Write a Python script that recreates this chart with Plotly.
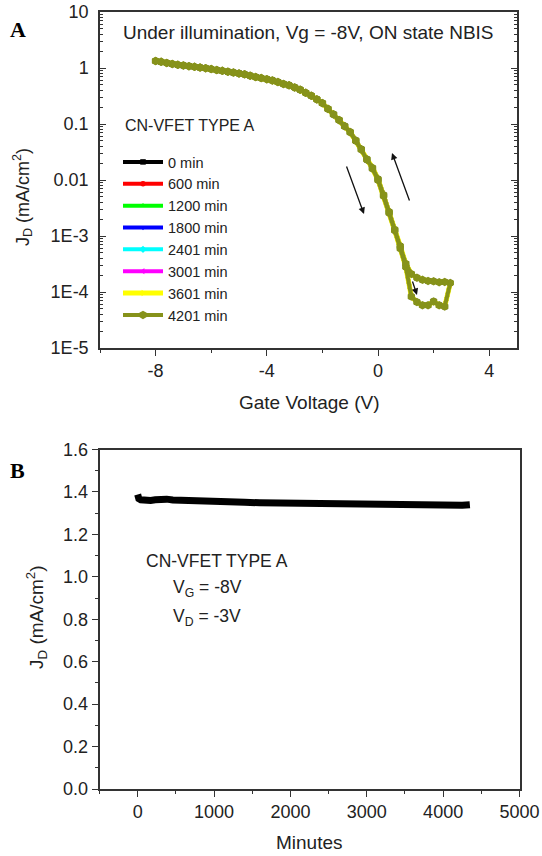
import plotly.graph_objects as go

# ---------------- DATA ----------------
# Panel A: gate sweep (forward -8 -> 2.6 V, then reverse back to -8 V)
vg_forward = [-8.0, -7.8, -7.6, -7.4, -7.2, -7.0, -6.8, -6.6, -6.4, -6.2,
              -6.0, -5.8, -5.6, -5.4, -5.2, -5.0, -4.8, -4.6, -4.4, -4.2,
              -4.0, -3.8, -3.6, -3.4, -3.2, -3.0, -2.8, -2.6, -2.4, -2.2,
              -2.0, -1.8, -1.6, -1.4, -1.2, -1.0, -0.8, -0.6, -0.4, -0.2,
              0.0, 0.2, 0.4, 0.6, 0.8, 1.0, 1.2, 1.4, 1.6, 1.8,
              2.0, 2.2, 2.4, 2.6]
jd_forward = [1.33, 1.29, 1.23, 1.18, 1.14, 1.11, 1.08, 1.05, 1.02, 0.99,
              0.955, 0.92, 0.89, 0.86, 0.83, 0.80, 0.77, 0.73, 0.69, 0.66,
              0.63, 0.60, 0.56, 0.52, 0.49, 0.45, 0.41, 0.36, 0.32, 0.275,
              0.235, 0.186, 0.148, 0.117, 0.091, 0.071, 0.050, 0.035, 0.023, 0.016,
              0.010, 0.0052, 0.0026, 0.00126, 0.0006, 0.00028, 8.3e-5, 6.6e-5, 5.8e-5, 5.8e-5,
              6.8e-5, 5.8e-5, 5.5e-5, 1.45e-4]
vg_reverse = [2.4, 2.2, 2.0, 1.8, 1.6, 1.4, 1.2, 1.0, 0.8, 0.6,
              0.4, 0.2, 0.0, -0.2, -0.4, -0.6, -0.8, -1.0, -1.2, -1.4,
              -1.6, -1.8, -2.0, -2.2, -2.4, -2.6, -2.8, -3.0, -3.2, -3.4,
              -3.6, -3.8, -4.0, -4.2, -4.4, -4.6, -4.8, -5.0, -5.2, -5.4,
              -5.6, -5.8, -6.0, -6.2, -6.4, -6.6, -6.8, -7.0, -7.2, -7.4,
              -7.6, -7.8, -8.0]
jd_reverse = [1.51e-4, 1.5e-4, 1.55e-4, 1.58e-4, 1.65e-4, 1.8e-4, 2.1e-4, 3.2e-4, 6.6e-4, 0.0013,
              0.0027, 0.0054, 0.0104, 0.0165, 0.0235, 0.0355, 0.051, 0.072, 0.092, 0.118,
              0.149, 0.187, 0.236, 0.276, 0.321, 0.361, 0.41, 0.45, 0.49, 0.52,
              0.56, 0.60, 0.63, 0.66, 0.69, 0.73, 0.77, 0.80, 0.83, 0.86,
              0.89, 0.92, 0.955, 0.99, 1.02, 1.05, 1.08, 1.11, 1.14, 1.18,
              1.23, 1.29, 1.34]

series_names = ["0 min", "600 min", "1200 min", "1800 min",
                "2401 min", "3001 min", "3601 min", "4201 min"]
series_colors = ["#000000", "#ff0000", "#00ff00", "#0000ff",
                 "#00ffff", "#ff00ff", "#ffff00", "#86921a"]
series_symbols = ["square", "circle", "triangle-up", "triangle-down",
                  "diamond", "triangle-left", "triangle-right", "hexagon"]

xtick_vals_a = [-8, -4, 0, 4]
xtick_text_a = ["-8", "-4", "0", "4"]
ytick_vals_a = [1e-5, 1e-4, 1e-3, 0.01, 0.1, 1, 10]
ytick_text_a = ["1E-5", "1E-4", "1E-3", "0.01", "0.1", "1", "10"]

# Panel B: J_D vs time at Vg=-8V
minutes = [0, 5, 15, 40, 80, 130, 170, 230, 300, 380, 460, 560, 700, 850, 1000,
           1200, 1400, 1600, 1800, 2000, 2300, 2600, 2900, 3200, 3400, 3600,
           3800, 3950, 4050, 4150, 4250, 4350]
jd_time = [1.388, 1.378, 1.368, 1.363, 1.361, 1.360, 1.360, 1.363, 1.366, 1.366,
           1.362, 1.360, 1.358, 1.356, 1.355, 1.353, 1.351, 1.349, 1.348, 1.346,
           1.344, 1.342, 1.341, 1.339, 1.338, 1.336, 1.333, 1.331, 1.331, 1.333,
           1.337, 1.340]

# ---------------- FIGURE ----------------
W, H = 542, 856
FONT = "Liberation Sans, Arial, sans-serif"
AX = "#333333"


def fx(p):
    return p / W


def fy(p):
    return 1 - p / H


fig = go.Figure()

vg_all = vg_forward + vg_reverse
jd_all = jd_forward + jd_reverse
for name, col, sym in zip(series_names, series_colors, series_symbols):
    is_top = name == series_names[-1]
    is_yel = name == series_names[-2]
    fig.add_trace(go.Scatter(
        x=vg_all, y=jd_all, name=name, mode="lines+markers",
        line=dict(color=col, width=5 if is_yel else 4),
        marker=dict(symbol=sym, size=8.5 if is_top else 5.5, color=col),
        xaxis="x", yaxis="y", showlegend=True))

fig.add_trace(go.Scatter(
    x=minutes, y=jd_time, mode="lines", line=dict(color="black", width=7),
    xaxis="x2", yaxis="y2", showlegend=False))

dom_ax = [fx(100), fx(517)]
dom_ay = [fy(348), fy(12)]
dom_bx = [fx(99.5), fx(519.5)]
dom_by = [fy(789), fy(449.5)]

minor_log = [m * 10 ** e for e in range(-5, 1) for m in range(2, 10)]

common = dict(showline=True, linecolor=AX, linewidth=1.5, showgrid=False, automargin=False,
              zeroline=False, tickcolor=AX, tickfont=dict(family=FONT, size=18, color="#222"))
overlay = dict(showticklabels=False, showline=False, showgrid=False, zeroline=False,
               tickcolor=AX, automargin=False, ticks="inside", ticklen=5, tickwidth=1.3,
               tickmode="array")

fig.update_layout(
    template="none",
    width=W, height=H, margin=dict(l=0, r=0, t=0, b=0, autoexpand=False),
    paper_bgcolor="white", plot_bgcolor="white",
    font=dict(family=FONT, color="#222"),
    showlegend=True,
    xaxis=dict(domain=dom_ax, anchor="y", range=[-10, 5], tickmode="array",
               tickvals=xtick_vals_a, ticktext=xtick_text_a, ticks="outside", ticklen=6,
               tickwidth=1.3,
               minor=dict(tickmode="array", tickvals=[-10, -6, -2, 2], ticks="outside",
                          ticklen=3, tickcolor=AX),
               mirror=True, **common),
    yaxis=dict(domain=dom_ay, anchor="x", type="log", range=[-5, 1], tickmode="array",
               tickvals=ytick_vals_a, ticktext=ytick_text_a, ticks="inside", ticklen=6,
               tickwidth=1.3, mirror="allticks", ticklabelstandoff=6,
               minor=dict(tickmode="array", tickvals=minor_log, ticks="inside", ticklen=3,
                          tickcolor=AX),
               **common),
    xaxis3=dict(overlaying="x", anchor="y", side="top", range=[-10, 5],
                tickvals=[-8, -6, -4, -2, 0, 2, 4], **overlay),
    xaxis2=dict(domain=dom_bx, anchor="y2", range=[-500, 5000], tickmode="array",
                tickvals=[0, 1000, 2000, 3000, 4000, 5000], ticks="outside", ticklen=6,
                tickwidth=1.3, mirror=True,
                minor=dict(tickmode="array", tickvals=[-500, 500, 1500, 2500, 3500, 4500],
                           ticks="outside", ticklen=3, tickcolor=AX),
                **common),
    yaxis2=dict(domain=dom_by, anchor="x2", range=[0, 1.6], tickmode="array",
                tickvals=[0, 0.2, 0.4, 0.6, 0.8, 1.0, 1.2, 1.4, 1.6], tickformat=".1f",
                ticks="outside", ticklen=6, tickwidth=1.3, mirror=True,
                minor=dict(tickmode="array", tickvals=[0.1, 0.3, 0.5, 0.7, 0.9, 1.1, 1.3, 1.5],
                           ticks="outside", ticklen=3, tickcolor=AX),
                **common),
    xaxis4=dict(overlaying="x2", anchor="y2", side="top", range=[-500, 5000],
                tickvals=[0, 500, 1000, 1500, 2000, 2500, 3000, 3500, 4000, 4500], **overlay),
    yaxis4=dict(overlaying="y2", anchor="x2", side="right", range=[0, 1.6],
                tickvals=[0.1, 0.2, 0.3, 0.4, 0.5, 0.6, 0.7, 0.8, 0.9, 1.0, 1.1, 1.2,
                          1.3, 1.4, 1.5], **overlay),
    legend=dict(x=fx(118), y=fy(146), xanchor="left", yanchor="top",
                bgcolor="rgba(0,0,0,0)", borderwidth=0,
                font=dict(family=FONT, size=14.5, color="#222"),
                itemwidth=40, tracegroupgap=0),
)

ann = []


def txt(x, y, s, size=18, xanchor="center", angle=0, family=FONT, color="#222"):
    ann.append(dict(x=fx(x), y=fy(y), xref="paper", yref="paper", text=s, showarrow=False,
                    xanchor=xanchor, yanchor="middle", textangle=angle,
                    font=dict(family=family, size=size, color=color)))


SERIF = "Liberation Serif, Times New Roman, serif"
txt(8, 30, "<b>A</b>", size=22, xanchor="left", family=SERIF, color="black")
txt(8, 470, "<b>B</b>", size=22, xanchor="left", family=SERIF, color="black")
txt(308, 33, "Under illumination, Vg = -8V, ON state NBIS", size=19)
txt(123, 125, "CN-VFET TYPE A", size=16, xanchor="left")
txt(309, 403, "Gate Voltage (V)", size=19)
txt(22, 197, "J<sub>D</sub> (mA/cm<sup>2</sup>)", size=18, angle=-90)
txt(144, 561, "CN-VFET TYPE A", size=17.5, xanchor="left")
txt(171, 588, "V<sub>G</sub> = -8V", size=17.5, xanchor="left")
txt(171, 617, "V<sub>D</sub> = -3V", size=17.5, xanchor="left")
txt(309, 842, "Minutes", size=19)
txt(36, 617, "J<sub>D</sub> (mA/cm<sup>2</sup>)", size=19, angle=-90)

# sweep-direction arrows
for (x0, y0, x1, y1) in [(346, 165, 364, 214), (410, 202, 392, 153), (412, 280, 417, 295)]:
    ann.append(dict(x=fx(x1), y=fy(y1), xref="paper", yref="paper",
                    ax=x0 - x1, ay=y0 - y1, axref="pixel", ayref="pixel",
                    showarrow=True, arrowhead=2, arrowsize=1, arrowwidth=1.3,
                    arrowcolor="#111", text=""))

fig.update_layout(annotations=ann)

fig.write_html("out.html")
